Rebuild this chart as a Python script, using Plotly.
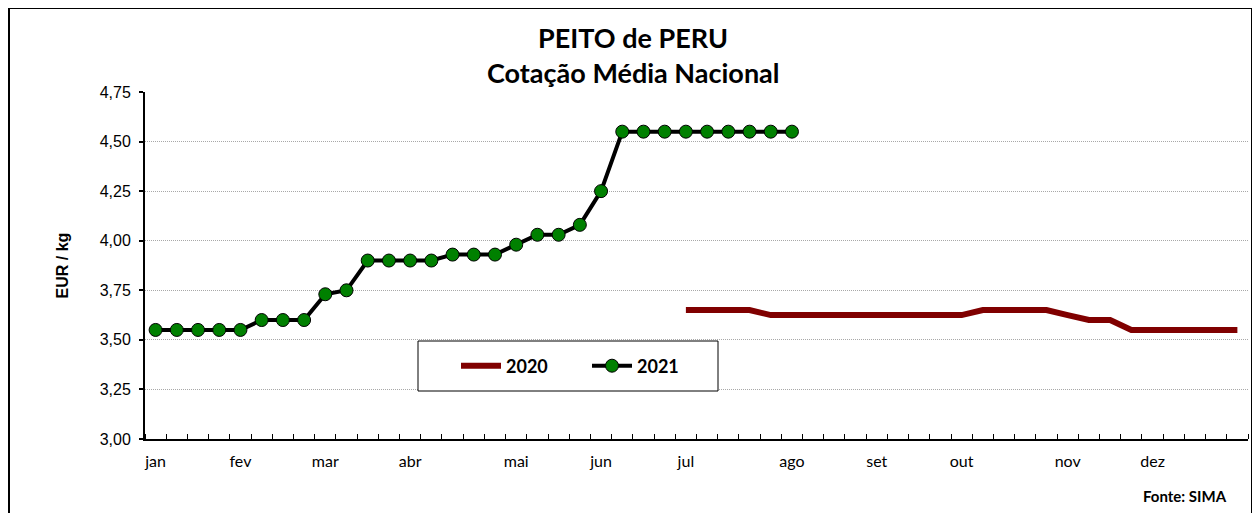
import plotly.graph_objects as go

# ---- data ----
weeks = list(range(52))
month_labels = ["jan", "fev", "mar", "abr", "mai", "jun", "jul", "ago", "set", "out", "nov", "dez"]
month_week = [0, 4, 8, 12, 17, 21, 25, 30, 34, 38, 43, 47]

y2021 = [3.55, 3.55, 3.55, 3.55, 3.55, 3.60, 3.60, 3.60, 3.73, 3.75,
         3.90, 3.90, 3.90, 3.90, 3.93, 3.93, 3.93, 3.98, 4.03, 4.03,
         4.08, 4.25, 4.55, 4.55, 4.55, 4.55, 4.55, 4.55, 4.55, 4.55, 4.55]
y2020 = [None] * 25 + [3.65, 3.65, 3.65, 3.65,
                       3.625, 3.625, 3.625, 3.625, 3.625, 3.625, 3.625, 3.625, 3.625, 3.625,
                       3.65, 3.65, 3.65, 3.65, 3.625, 3.60, 3.60,
                       3.55, 3.55, 3.55, 3.55, 3.55, 3.55]

# ---- layout geometry (page pixels; page body has an 8px margin) ----
OFF = 8
W, H = 1250, 505
L, R, T, B = 145 - OFF, 1248 - OFF, 92 - OFF, 439 - OFF
pw, ph = R - L, B - T


def px(x):
    return (x - OFF - L) / pw


def py(y):
    return (B - (y - OFF)) / ph


CAL = "Lato, Calibri, 'Open Sans', sans-serif"
ARI = "'Liberation Sans', Arial, sans-serif"

fig = go.Figure()
fig.add_trace(go.Scatter(
    x=weeks[:len(y2020)], y=y2020, name="2020", mode="lines",
    line=dict(color="#800000", width=6), connectgaps=False,
))
fig.add_trace(go.Scatter(
    x=weeks[:len(y2021)], y=y2021, name="2021", mode="lines+markers",
    line=dict(color="black", width=4),
    marker=dict(color="#008000", size=13, line=dict(color="black", width=1)),
))

fig.update_layout(
    width=W, height=H, autosize=False,
    margin=dict(l=L, r=W - R, t=T, b=H - B),
    paper_bgcolor="white", plot_bgcolor="white",
    separators=",.",
    showlegend=True,
    legend=dict(
        orientation="h", x=px(456), y=py(366), xanchor="left", yanchor="middle",
        bgcolor="rgba(0,0,0,0)", borderwidth=0,
        font=dict(family=CAL, size=18, color="black", weight="bold"),
        entrywidth=76, entrywidthmode="pixels", itemwidth=40,
    ),
    xaxis=dict(
        range=[-0.5, 51.5], tickmode="array", tickvals=month_week, ticktext=month_labels,
        ticks="", showgrid=False, zeroline=False,
        showline=True, linecolor="black", linewidth=2,
        tickfont=dict(family=CAL, size=16, color="black"),
        ticklabelstandoff=7,
        minor=dict(tick0=-0.5, dtick=1, ticks="inside", ticklen=5, tickwidth=1,
                   tickcolor="black", showgrid=False),
    ),
    yaxis=dict(
        range=[3.0, 4.75], tick0=3.0, dtick=0.25, tickformat=".2f",
        ticks="outside", ticklen=4, tickwidth=2, tickcolor="black",
        showline=True, linecolor="black", linewidth=2,
        showgrid=True, gridcolor="#a8a8a8", griddash="1px,1px", gridwidth=1,
        zeroline=False,
        tickfont=dict(family=ARI, size=16, color="black"),
        ticklabelstandoff=5,
        title=dict(text="EUR / kg", font=dict(family=ARI, size=16, color="black", weight="bold"),
                   standoff=27),
    ),
    shapes=[
        # outer chart frame
        dict(type="rect", xref="paper", yref="paper",
             x0=px(9), x1=px(1252), y0=py(530), y1=py(8),
             line=dict(color="black", width=2), fillcolor="rgba(0,0,0,0)", layer="above"),
        # legend box
        dict(type="rect", xref="paper", yref="paper",
             x0=px(418), x1=px(718), y0=py(391), y1=py(341),
             line=dict(color="black", width=1), fillcolor="white", layer="above"),
    ],
    annotations=[
        dict(text="<b>PEITO de PERU</b>", xref="paper", yref="paper", x=px(633), y=py(38),
             xanchor="center", yanchor="middle", showarrow=False,
             font=dict(family=CAL, size=27, color="black")),
        dict(text="<b>Cotação Média Nacional</b>", xref="paper", yref="paper", x=px(633), y=py(73),
             xanchor="center", yanchor="middle", showarrow=False,
             font=dict(family=CAL, size=27, color="black")),
        dict(text="<b>Fonte: SIMA</b>", xref="paper", yref="paper", x=px(1185), y=py(496),
             xanchor="center", yanchor="middle", showarrow=False,
             font=dict(family=CAL, size=15, color="black")),
    ],
)

fig.write_html("out.html")
